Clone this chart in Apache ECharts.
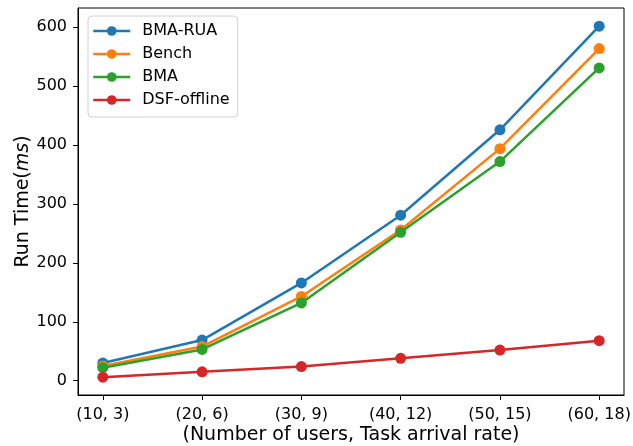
<!DOCTYPE html>
<html>
<head>
<meta charset="utf-8">
<script src="https://cdn.jsdelivr.net/npm/echarts@6/dist/echarts.min.js"></script>
<style>html,body{margin:0;padding:0;background:#fff;}#c{width:633px;height:446px;}</style>
</head>
<body>
<div id="c"></div>
<script>
const categories = ['(10, 3)', '(20, 6)', '(30, 9)', '(40, 12)', '(50, 15)', '(60, 18)'];
const seriesNames = ['BMA-RUA', 'Bench', 'BMA', 'DSF-offline'];
const bmaRua = [30, 69, 166, 281, 426, 602];
const bench = [25, 58, 143, 256, 394, 564];
const bma = [22, 53, 132, 252, 372, 531];
const dsfOffline = [6, 15, 24, 38, 52, 68];
const yTicks = [0, 100, 200, 300, 400, 500, 600];
const colors = ['#1f77b4', '#ff7f0e', '#2ca02c', '#d62728'];
const allValues = [bmaRua, bench, bma, dsfOffline];

const font = 'DejaVu Sans';
const chart = echarts.init(document.getElementById('c'));
const xIdx = categories.map((_, i) => i);

chart.setOption({
  animation: false,
  backgroundColor: '#fff',
  textStyle: { fontFamily: font },
  grid: { left: 78, right: 9, top: 8, bottom: 51, containLabel: false, outerBoundsMode: 'none', show: true, borderColor: '#000', borderWidth: 1, backgroundColor: 'transparent' },
  legend: {
    left: 88, top: 16, orient: 'vertical',
    itemWidth: 37, itemHeight: 12, itemGap: 7,
    padding: [7, 8, 9, 4],
    backgroundColor: '#fff', borderColor: '#d0d0d0', borderWidth: 1, borderRadius: 4,
    lineStyle: { width: 2.5 },
    textStyle: { fontFamily: font, fontSize: 16, color: '#000', padding: [0, 0, 0, 7] },
    data: seriesNames
  },
  xAxis: {
    type: 'value', min: -0.25, max: 5.25,
    axisLine: { show: true, onZero: false, lineStyle: { color: '#000', width: 1 } },
    axisTick: { show: true, length: 5, lineStyle: { color: '#000' }, customValues: xIdx },
    axisLabel: { customValues: xIdx, formatter: v => categories[Math.round(v)], fontFamily: font, fontSize: 16, color: '#000', margin: 12 },
    splitLine: { show: false },
    name: '(Number of users, Task arrival rate)', nameLocation: 'middle', nameGap: 31, nameMoveOverlap: false,
    nameTextStyle: { fontFamily: font, fontSize: 19, color: '#000' }
  },
  yAxis: {
    type: 'value', min: -24.3, max: 632.8,
    axisLine: { show: true, onZero: false, lineStyle: { color: '#000', width: 1 } },
    axisTick: { show: true, length: 5, lineStyle: { color: '#000' }, customValues: yTicks },
    axisLabel: { customValues: yTicks, fontFamily: font, fontSize: 16, color: '#000', margin: 11 },
    splitLine: { show: false },
    name: 'Run Time({i|ms})', nameLocation: 'middle', nameGap: 45, nameMoveOverlap: false,
    nameTextStyle: { fontFamily: font, fontSize: 19, color: '#000', rich: { i: { fontStyle: 'italic', fontFamily: font, fontSize: 19 } } }
  },
  series: seriesNames.map((name, k) => ({
    name, type: 'line',
    data: allValues[k].map((v, i) => [i, v]),
    symbol: 'circle', symbolSize: 11,
    itemStyle: { color: colors[k] },
    lineStyle: { color: colors[k], width: 2.5 },
    z: 2 + k
  }))
});
</script>
</body>
</html>
